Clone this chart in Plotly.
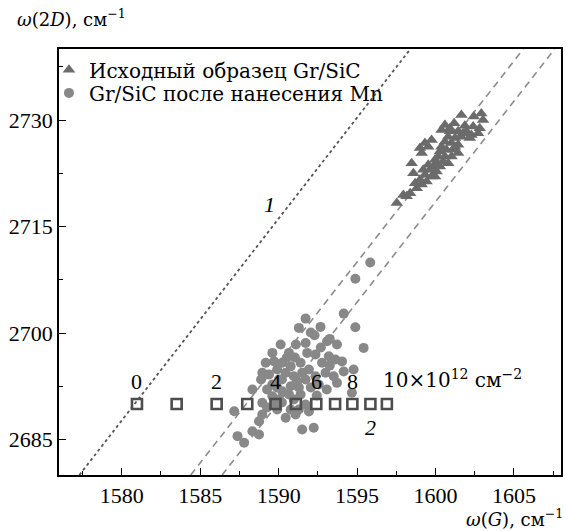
import plotly.graph_objects as go

# ---------------- data ----------------
tri_x = [1601.65, 1602.44, 1602.92, 1603.03, 1600.60, 1601.19, 1601.87, 1602.40, 1602.82, 1600.38,
         1600.92, 1601.44, 1601.76, 1602.29, 1602.71, 1600.81, 1601.24, 1601.65, 1602.19, 1600.60,
         1601.02, 1601.44, 1599.75, 1599.33, 1599.01, 1599.54, 1599.12, 1600.38, 1600.28, 1600.70,
         1601.13, 1601.44, 1600.18, 1600.60, 1601.02, 1600.07, 1600.49, 1599.86, 1600.28, 1599.65,
         1600.07, 1598.48, 1598.59, 1599.33, 1599.75, 1599.01, 1599.43, 1598.70, 1599.12, 1598.80,
         1598.38, 1597.95, 1598.16, 1597.53, 1599.97, 1600.81, 1601.24, 1601.97, 1600.92, 1599.97,
         1599.54, 1599.22]
tri_y = [2730.7, 2730.5, 2730.9, 2730.0, 2729.3, 2729.55, 2729.2, 2729.1, 2728.85, 2728.6,
         2728.4, 2728.4, 2728.15, 2727.9, 2728.15, 2727.65, 2727.45, 2727.65, 2727.45, 2726.95,
         2726.75, 2726.5, 2727.2, 2726.75, 2726.05, 2726.25, 2725.35, 2726.25, 2725.55, 2725.8,
         2725.8, 2725.35, 2724.85, 2724.85, 2724.85, 2723.9, 2724.15, 2723.45, 2723.45, 2723.0,
         2722.75, 2723.9, 2722.5, 2722.3, 2722.05, 2721.6, 2721.35, 2721.1, 2720.9, 2720.4,
         2719.7, 2719.45, 2719.25, 2718.3, 2724.4, 2723.9, 2726.25, 2728.4, 2728.85, 2722.05,
         2723.7, 2723.0]

circ_x = [1595.84, 1594.89, 1594.15, 1591.72, 1591.29, 1592.67, 1594.89, 1592.29, 1593.26, 1590.13,
          1590.66, 1589.60, 1589.18, 1588.96, 1589.71, 1590.23, 1590.77, 1591.40, 1591.82, 1592.35,
          1591.72, 1592.05, 1593.09, 1593.72, 1595.42, 1593.20, 1593.62, 1594.04, 1592.77, 1591.50,
          1591.93, 1590.97, 1590.45, 1590.02, 1589.60, 1590.23, 1590.77, 1591.18, 1591.72, 1592.35,
          1592.99, 1593.51, 1593.72, 1594.78, 1594.67, 1591.40, 1589.60, 1589.91, 1590.77, 1590.45,
          1591.08, 1591.50, 1592.24, 1588.96, 1588.33, 1588.96, 1587.17, 1588.75, 1588.33, 1587.38,
          1588.75, 1587.80, 1591.72, 1589.91, 1590.53, 1591.04, 1590.21, 1589.39, 1589.90, 1590.66,
          1592.05, 1592.56, 1591.29, 1589.26, 1590.02, 1590.97, 1592.43, 1593.07, 1592.69, 1591.10,
          1588.88, 1589.71, 1591.93, 1594.15, 1593.26, 1590.21, 1591.29, 1589.26]
circ_y = [2709.94, 2707.65, 2702.73, 2702.03, 2700.72, 2700.86, 2700.80, 2699.68, 2699.17, 2698.37,
          2697.20, 2697.20, 2695.80, 2694.40, 2696.00, 2695.80, 2695.30, 2695.80, 2697.20, 2696.96,
          2698.60, 2700.06, 2698.83, 2698.37, 2697.90, 2696.72, 2696.26, 2696.00, 2695.80, 2694.40,
          2694.85, 2693.90, 2694.40, 2693.45, 2692.75, 2691.80, 2692.50, 2693.20, 2693.45, 2693.90,
          2694.40, 2693.90, 2692.98, 2694.85, 2691.58, 2691.34, 2691.10, 2689.23, 2689.23, 2688.06,
          2688.52, 2686.41, 2686.65, 2688.52, 2692.04, 2690.17, 2688.99, 2687.58, 2686.17, 2685.47,
          2685.71, 2684.54, 2689.93, 2694.85, 2696.54, 2696.54, 2693.45, 2694.15, 2692.32, 2691.34,
          2692.32, 2692.75, 2692.32, 2692.04, 2690.63, 2690.63, 2691.20, 2692.04, 2697.95, 2698.37,
          2693.45, 2689.93, 2688.95, 2694.57, 2695.41, 2690.20, 2689.23, 2689.50]

# doping scale (line 2): n = 0..10 x 10^12 cm^-2
sq_x = [1580.97, 1583.50, 1586.05, 1588.00, 1589.80, 1591.10, 1592.40, 1593.60, 1594.70, 1595.85, 1596.90]
sq_y = [2690] * 11
n_labels = ["0", "", "2", "", "4", "", "6", "", "8", "", "10×10<sup>12</sup> см<sup>−2</sup>"]

# reference lines (endpoints)
line1_x = [1577.3, 1598.4]
line1_y = [2680, 2740]
dash1_x = [1584.4, 1605.6]
dash1_y = [2680, 2740]
dash2_x = [1586.4, 1607.6]
dash2_y = [2680, 2740]

x_range = [1576, 1608]
y_range = [2680, 2740]
x_ticks = [1580, 1585, 1590, 1595, 1600, 1605]
y_ticks = [2685, 2700, 2715, 2730]

FONT = "Liberation Serif"
WFONT = "DejaVu Serif"

fig = go.Figure()
fig.add_trace(go.Scatter(x=line1_x, y=line1_y, mode="lines", showlegend=False,
                         line=dict(color="#555555", width=1.8, dash="dot")))
fig.add_trace(go.Scatter(x=dash1_x, y=dash1_y, mode="lines", showlegend=False,
                         line=dict(color="#8c8c8c", width=1.6, dash="7px,5px")))
fig.add_trace(go.Scatter(x=dash2_x, y=dash2_y, mode="lines", showlegend=False,
                         line=dict(color="#8c8c8c", width=1.6, dash="7px,5px")))
fig.add_trace(go.Scatter(x=tri_x, y=tri_y, mode="markers", name="Исходный образец Gr/SiC",
                         legend="legend",
                         marker=dict(symbol="triangle-up", size=11, color="#6b6b6b", line=dict(width=0))))
fig.add_trace(go.Scatter(x=circ_x, y=circ_y, mode="markers", name="Gr/SiC после нанесения Mn",
                         legend="legend2",
                         marker=dict(symbol="circle", size=10, color="#888888", line=dict(width=0))))
fig.add_trace(go.Scatter(x=sq_x, y=sq_y, mode="markers", showlegend=False,
                         marker=dict(symbol="square-open", size=10, color="#4d4d4d", line=dict(width=2.6))))

ann = []
for xv, lab in zip(sq_x, n_labels):
    if not lab:
        continue
    if lab.startswith("10×"):
        ann.append(dict(x=xv, y=2693.2, xref="x", yref="y", text=lab, showarrow=False,
                        xanchor="left", yanchor="middle", xshift=-6, yshift=2,
                        font=dict(family=WFONT, size=20, color="black")))
    else:
        ann.append(dict(x=xv, y=2693.2, xref="x", yref="y", text=lab, showarrow=False,
                        xanchor="center", yanchor="middle",
                        font=dict(family=FONT, size=22, color="black")))
ann.append(dict(x=1589.4, y=2718.05, xref="x", yref="y", text="<i>1</i>", showarrow=False,
                font=dict(family=FONT, size=22, color="black")))
ann.append(dict(x=1595.86, y=2686.7, xref="x", yref="y", text="<i>2</i>", showarrow=False,
                font=dict(family=FONT, size=22, color="black")))
ann.append(dict(x=-0.087, y=1.073, xref="paper", yref="paper", xanchor="left", yanchor="middle",
                text="<i>ω</i>(2<i>D</i>), см<sup>−1</sup>", showarrow=False,
                font=dict(family=WFONT, size=18, color="black")))
ann.append(dict(x=1.008, y=-0.1, xref="paper", yref="paper", xanchor="right", yanchor="middle",
                text="<i>ω</i>(<i>G</i>), см<sup>−1</sup>", showarrow=False,
                font=dict(family=WFONT, size=18, color="black")))

axis_common = dict(showline=True, linecolor="black", linewidth=1.5, mirror=True,
                   ticks="inside", ticklen=7, tickwidth=1.2, tickcolor="black",
                   showgrid=False, zeroline=False,
                   tickfont=dict(family=FONT, size=22, color="black"))

leg_common = dict(xanchor="left", yanchor="middle", bgcolor="rgba(0,0,0,0)",
                  font=dict(family=WFONT, size=20, color="black"), itemwidth=30)

fig.update_layout(
    width=566, height=531,
    margin=dict(l=59, r=3, t=49, b=56),
    paper_bgcolor="white", plot_bgcolor="white",
    xaxis=dict(range=x_range, tickvals=x_ticks,
               minor=dict(dtick=2.5, tick0=1580, ticks="inside", ticklen=4, tickcolor="black"),
               **axis_common),
    yaxis=dict(range=y_range, tickvals=y_ticks,
               minor=dict(dtick=7.5, tick0=2685, ticks="inside", ticklen=4, tickcolor="black"),
               **axis_common),
    legend=dict(x=-0.02, y=0.951, **leg_common),
    legend2=dict(x=-0.02, y=0.897, **leg_common),
    annotations=ann,
)

fig.write_html("out.html")
